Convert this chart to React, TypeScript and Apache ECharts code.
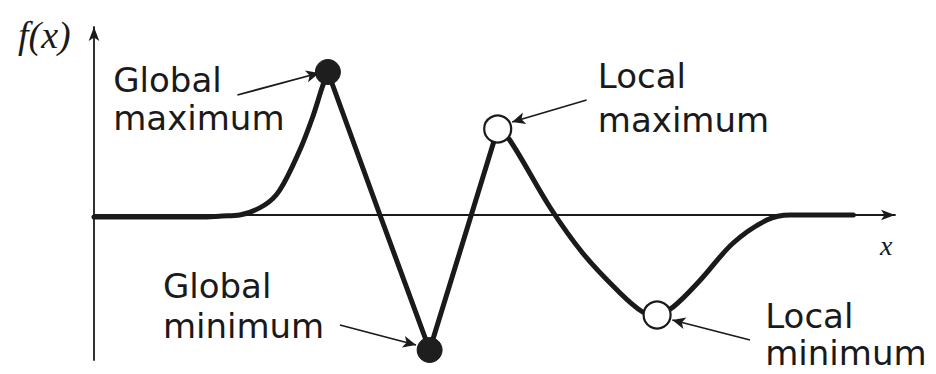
import React, { useEffect, useRef } from "react";
import * as echarts from "echarts";

// Curve f(x) samples (x, f(x))
const curveX = [0, 1.32, 1.6, 1.82, 2.13, 2.32, 2.57, 2.73, 2.85, 2.92, 3.57, 4.19, 4.71, 5.04, 5.19, 5.69, 6.1, 6.53, 6.85, 7.03, 7.23, 7.57, 7.98, 8.4, 8.69, 9.48];
const curveY = [-0.02, -0.02, -0.01, 0.0, 0.1, 0.25, 0.65, 0.98, 1.28, 1.43, 0.0, -1.35, 0.0, 0.86, 0.75, 0.08, -0.38, -0.75, -0.97, -1.0, -0.92, -0.65, -0.28, -0.05, 0.0, 0.0];
// Pieces of the curve: [start index, end index, smooth?]
const pieceStart = [0, 9, 11, 13, 19];
const pieceEnd = [9, 11, 13, 19, 25];
const pieceSmooth = [0.35, 0, 0, 0.35, 0.35];

// Extrema markers
const globalX = [2.92, 4.19];
const globalY = [1.43, -1.35];
const localX = [5.04, 7.03];
const localY = [0.86, -1.0];

// Annotation texts
const labelLine1 = ["Global", "Local", "Global", "Local"];
const labelLine2 = ["maximum", "maximum", "minimum", "minimum"];
const labelLeftX = [0.24, 6.29, 0.86, 8.38];
const labelBase1 = [1.23, 1.27, -0.83, -1.13];
const labelBase2 = [0.85, 0.83, -1.23, -1.5];

// Annotation arrows (from -> to)
const arrowFromX = [1.79, 6.15, 3.07, 8.19];
const arrowFromY = [1.2, 1.15, -1.1, -1.25];
const arrowToX = [2.81, 5.22, 4.02, 7.22];
const arrowToY = [1.42, 0.93, -1.3, -1.05];

// Axis names
const yName = "f(x)";
const yNamePos = [-0.62, 1.8];
const xName = "x";
const xNamePos = [9.89, -0.3];

const INK = "#1a1a1a";
const FS = 34;

export default function App() {
  const ref = useRef<HTMLDivElement>(null);
  useEffect(() => {
    if (!ref.current) return;
    const chart = echarts.init(ref.current, undefined, { renderer: "svg" });
    const curveSeries = pieceStart.map((s, k) => ({
      type: "line",
      data: curveX.slice(s, pieceEnd[k] + 1).map((x, i) => [x, curveY[s + i]]),
      smooth: pieceSmooth[k] || false,
      showSymbol: false,
      lineStyle: { color: INK, width: 5, cap: "round", join: "round" },
      z: 3,
    }));
    chart.setOption({
      animation: false,
      backgroundColor: "#ffffff",
      grid: { left: 94, right: 41, top: 27, bottom: 14 },
      xAxis: {
        type: "value",
        min: 0,
        max: 10,
        axisLine: {
          show: true,
          onZero: true,
          symbol: ["none", "arrow"],
          symbolSize: [8, 14],
          lineStyle: { color: INK, width: 1.8 },
        },
        axisTick: { show: false },
        axisLabel: { show: false },
        splitLine: { show: false },
      },
      yAxis: {
        type: "value",
        min: -1.45,
        max: 1.88,
        axisLine: {
          show: true,
          onZero: true,
          symbol: ["none", "arrow"],
          symbolSize: [8, 14],
          lineStyle: { color: INK, width: 1.8 },
        },
        axisTick: { show: false },
        axisLabel: { show: false },
        splitLine: { show: false },
      },
      series: [
        ...curveSeries,
        {
          type: "line",
          data: [],
          markLine: {
            silent: true,
            symbol: ["none", "arrow"],
            symbolSize: [9, 13],
            label: { show: false },
            lineStyle: { color: INK, width: 1.8, type: "solid" },
            data: arrowFromX.map((fx, i) => [
              { coord: [fx, arrowFromY[i]] },
              { coord: [arrowToX[i], arrowToY[i]] },
            ]),
          },
        },
        {
          type: "scatter",
          data: globalX.map((x, i) => [x, globalY[i]]),
          symbolSize: 25,
          itemStyle: { color: "#1e1e1e", borderColor: INK, borderWidth: 1, opacity: 1 },
          z: 5,
        },
        {
          type: "scatter",
          data: localX.map((x, i) => [x, localY[i]]),
          symbolSize: 27,
          itemStyle: { color: "#ffffff", borderColor: INK, borderWidth: 2.2, opacity: 1 },
          z: 5,
        },
      ],
    });

    const px = (x: number, y: number) => chart.convertToPixel({ gridIndex: 0 }, [x, y]) as number[];
    const graphic: any[] = [];
    labelLine1.forEach((t, i) => {
      const p1 = px(labelLeftX[i], labelBase1[i]);
      const p2 = px(labelLeftX[i], labelBase2[i]);
      graphic.push({
        type: "text",
        x: p1[0],
        y: p1[1] - 0.36 * FS,
        style: { text: t, fill: INK, font: `${FS}px "DejaVu Sans"`, verticalAlign: "middle", align: "left" },
      });
      graphic.push({
        type: "text",
        x: p2[0],
        y: p2[1] - 0.36 * FS,
        style: { text: labelLine2[i], fill: INK, font: `${FS}px "DejaVu Sans"`, verticalAlign: "middle", align: "left" },
      });
    });
    const yp = px(yNamePos[0], yNamePos[1]);
    graphic.push({
      type: "text",
      x: yp[0],
      y: yp[1],
      style: { text: yName, fill: INK, font: `italic 38px "Liberation Serif"`, verticalAlign: "middle", align: "center" },
    });
    const xp = px(xNamePos[0], xNamePos[1]);
    graphic.push({
      type: "text",
      x: xp[0],
      y: xp[1],
      style: { text: xName, fill: INK, font: `italic 28px "Liberation Serif"`, verticalAlign: "middle", align: "center" },
    });
    chart.setOption({ graphic });

    return () => chart.dispose();
  }, []);
  return (
    <div
      ref={ref}
      style={{ position: "fixed", left: 0, top: 0, width: 936, height: 374, background: "#fff" }}
    />
  );
}
